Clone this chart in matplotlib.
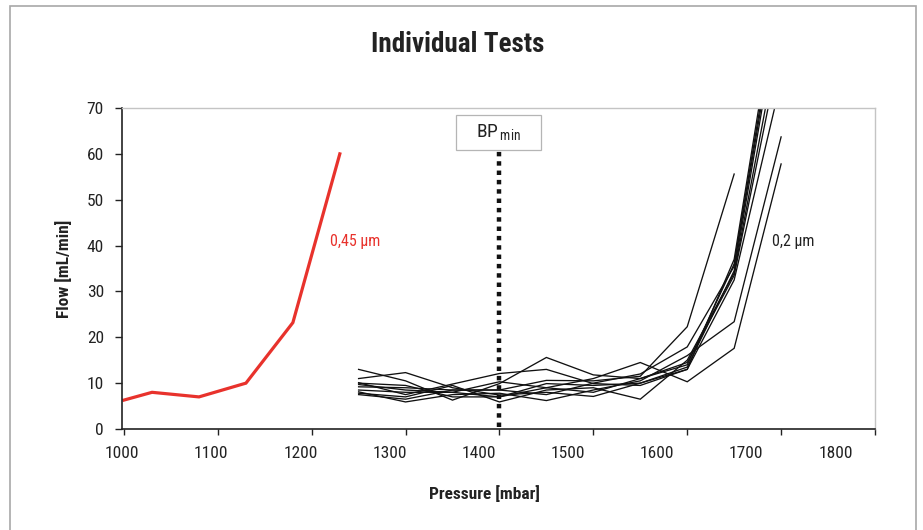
import matplotlib
matplotlib.use("Agg")
import matplotlib.pyplot as plt
from matplotlib.patches import Rectangle
from matplotlib import font_manager

# pick a narrow font if one is installed
available = {f.name for f in font_manager.fontManager.ttflist}
narrow = [n for n in ["Liberation Sans Narrow", "DejaVu Sans Condensed", "Roboto Condensed",
                      "Liberation Sans", "DejaVu Sans"] if n in available]
plt.rcParams["font.family"] = narrow

# Data
red_pressure = [1000, 1030, 1080, 1130, 1180, 1230]
red_flow = [6.3, 8.0, 7.0, 10.0, 23.2, 60.0]

test_pressure = [1250, 1300, 1350, 1400, 1450, 1500, 1550, 1600, 1650, 1700]
test_flows = [
    [13.0, 10.5, 6.3, 9.9, 15.6, 11.8, 11.0, 14.0, 36.0, 98],
    [11.0, 12.3, 9.0, 7.4, 8.0, 7.1, 10.0, 13.5, 34.5, 94],
    [10.1, 7.5, 9.8, 12.1, 13.0, 9.9, 9.5, 13.0, 37.0, 100],
    [9.7, 8.5, 8.0, 7.0, 9.0, 11.0, 14.5, 10.3, 17.6, 57.8],
    [9.2, 9.0, 8.5, 8.5, 10.6, 10.5, 11.5, 22.3, 55.6],
    [8.1, 5.9, 7.5, 7.8, 6.2, 8.5, 10.5, 16.0, 23.4, 63.7],
    [7.8, 7.0, 9.5, 5.9, 8.5, 9.0, 6.5, 15.0, 34.0, 88],
    [7.5, 6.5, 8.5, 8.5, 7.5, 10.0, 12.0, 17.9, 35.5, 96],
    [10.0, 9.5, 7.0, 7.0, 9.9, 9.5, 10.0, 13.0, 32.5, 76],
    [8.5, 8.0, 8.0, 10.3, 9.0, 8.0, 11.0, 14.5, 33.5, 84],
]

bp_min = 1400
x_tick_values = [1000, 1100, 1200, 1300, 1400, 1500, 1600, 1700, 1800]
y_tick_values = [0, 10, 20, 30, 40, 50, 60, 70]

RED = "#e8322c"
INK = "#222222"

fig = plt.figure(figsize=(9.23, 5.30), dpi=100)
ax = fig.add_axes([122 / 923, 1 - 429 / 530, 753 / 923, 321 / 530])

# outer chart border
fig.patches.append(Rectangle((10 / 923, -0.02), 906 / 923, 1.02 - 6 / 530,
                             transform=fig.transFigure, fill=False,
                             edgecolor="#a8a8a8", linewidth=1.2))

for flows in test_flows:
    ax.plot(test_pressure[:len(flows)], flows, color="#111111", linewidth=0.95,
            solid_joinstyle="miter")
ax.plot(red_pressure, red_flow, color=RED, linewidth=2.3, solid_joinstyle="miter")

# BP min marker: dotted line and labelled box
ax.plot([bp_min, bp_min], [0.4, 60.6], color="#111111", linewidth=3.2,
        linestyle=(0, (1, 1.1)), dash_capstyle="butt")
ax.add_patch(Rectangle((bp_min - 46, 60.8), 90, 7.7, facecolor="white",
                       edgecolor="#b5b5b5", linewidth=0.9, zorder=3))
ax.text(bp_min - 1, 64.6, r"BP$_{\,\mathregular{min}}$", ha="center", va="center",
        fontsize=14, color=INK, zorder=4)

ax.text(1220, 40.8, "0,45 µm", color=RED, fontsize=11.5, va="center", ha="left")
ax.text(1690, 40.8, "0,2 µm", color=INK, fontsize=11.5, va="center", ha="left")

ax.set_xlim(1000, 1800)
ax.set_ylim(0, 70)

# tick marks at every 100 mbar, labels sit slightly off the marks as in the original
ax.set_xticks(x_tick_values, minor=True)
ax.set_xticks([998 + (v - 1000) * 0.95 for v in x_tick_values],
              [str(v) for v in x_tick_values])
ax.tick_params(axis="x", which="major", length=0, pad=12, labelsize=12.5, labelcolor=INK)
ax.tick_params(axis="x", which="minor", length=4, width=1.0, direction="out", color=INK)
ax.set_yticks(y_tick_values)
ax.tick_params(axis="y", length=5, width=1.0, pad=8, labelsize=12.5, labelcolor=INK,
               color=INK)

for side in ["top", "right"]:
    ax.spines[side].set_color("#c4c4c4")
    ax.spines[side].set_linewidth(1.0)
for side in ["left", "bottom"]:
    ax.spines[side].set_color(INK)
    ax.spines[side].set_linewidth(1.2)

ax.set_xlabel("Pressure [mbar]", fontsize=12.5, fontweight="bold", color=INK)
ax.xaxis.set_label_coords(0.481, -0.2, transform=ax.transAxes)
ax.xaxis.label.set_va("center")
ax.set_ylabel("Flow [mL/min]", fontsize=12.5, fontweight="bold", color=INK)
ax.yaxis.set_label_coords(-0.078, 0.5, transform=ax.transAxes)
ax.yaxis.label.set_va("center")

fig.text(458 / 923, 1 - 45 / 530, "Individual Tests", ha="center", va="center",
         fontsize=19.5, fontweight="bold", color=INK)

fig.savefig("out.png", dpi=100)
